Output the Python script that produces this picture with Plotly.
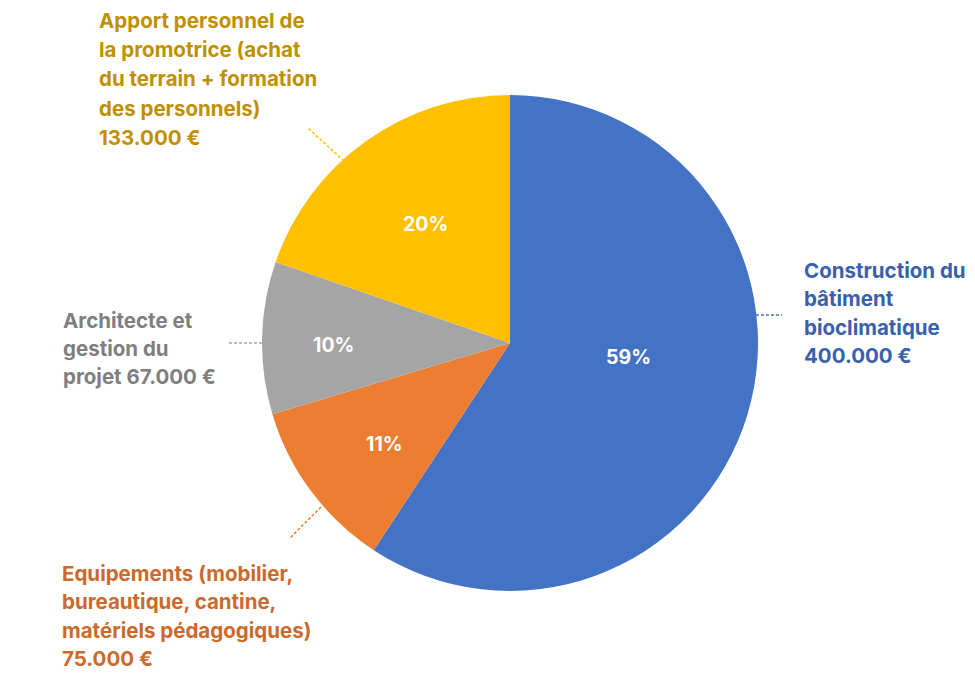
import math
import plotly.graph_objects as go

# ---- data ----
categories = ["Construction du bâtiment bioclimatique",
              "Equipements (mobilier, bureautique, cantine, matériels pédagogiques)",
              "Architecte et gestion du projet",
              "Apport personnel de la promotrice (achat du terrain + formation des personnels)"]
amounts = [400000, 75000, 67000, 133000]
label_lines = [
    ["Construction du", "bâtiment", "bioclimatique", "400.000 €"],
    ["Equipements (mobilier,", "bureautique, cantine,", "matériels pédagogiques)", "75.000 €"],
    ["Architecte et", "gestion du", "projet 67.000 €"],
    ["Apport personnel de", "la promotrice (achat", "du terrain + formation", "des personnels)", "133.000 €"],
]

# ---- styles ----
slice_colors = ["#4472C4", "#ED7D31", "#A5A5A5", "#FFC000"]
text_colors = ["#3A60AC", "#CB6A2A", "#7F7F7F", "#BF9000"]
W, H = 975, 684
FONT = "Inter"
LABEL_SIZE = 20.5
PCT_SIZE = 19.5

# pie geometry (pixels)
CX, CY, R = 510, 343, 248
# percent label placement: radial fraction and angular nudge (deg) per slice
pct_radius = [0.48, 0.65, 0.71, 0.59]
pct_nudge = [-10, -2, -2, 0]

# label layout (pixels): left x, first baseline y, line spacing
label_pos = [(802, 277, 28.5), (60, 580, 28.5), (61, 327, 28), (97, 28, 29)]
# leader segments in pixels
leaders = [((756, 315), (782, 315)), ((321, 507), (290, 538)),
           ((262, 343), (228, 343)), ((344, 161), (308, 128))]

fig = go.Figure(go.Pie(
    labels=categories, values=amounts, sort=False, direction="clockwise", rotation=0,
    marker=dict(colors=slice_colors, line=dict(width=0)),
    textinfo="none",
    domain=dict(x=[(CX - R) / W, (CX + R) / W], y=[(H - CY - R) / H, (H - CY + R) / H]),
    showlegend=False, hoverinfo="label+value+percent",
))

annotations = []
# percent labels, placed from the cumulative angles of the data
total = sum(amounts)
cum = 0
for v, fr, nd in zip(amounts, pct_radius, pct_nudge):
    mid = (cum + v / 2) / total * 360 + nd
    cum += v
    px = CX + fr * R * math.sin(math.radians(mid))
    py = CY - fr * R * math.cos(math.radians(mid))
    annotations.append(dict(
        text=f"{round(v / total * 100)}%", x=px / W, y=1 - py / H,
        xref="paper", yref="paper", xanchor="center", yanchor="middle", showarrow=False,
        font=dict(family=FONT, size=PCT_SIZE, color="white", weight="bold")))

for lines, (lx, by, sp), col in zip(label_lines, label_pos, text_colors):
    for i, t in enumerate(lines):
        y_mid = by + i * sp - 7
        annotations.append(dict(
            text=t, x=lx / W, y=1 - y_mid / H, xref="paper", yref="paper",
            xanchor="left", yanchor="middle", showarrow=False,
            font=dict(family=FONT, size=LABEL_SIZE, color=col, weight="bold")))

shapes = []
for ((x0, y0), (x1, y1)), col in zip(leaders, slice_colors):
    shapes.append(dict(type="line", xref="paper", yref="paper",
                       x0=x0 / W, y0=1 - y0 / H, x1=x1 / W, y1=1 - y1 / H,
                       line=dict(color=col, width=1.5, dash="3px,2px")))

fig.update_layout(width=W, height=H, margin=dict(l=0, r=0, t=0, b=0),
                  paper_bgcolor="white", plot_bgcolor="white",
                  annotations=annotations, shapes=shapes,
                  font=dict(family=FONT))
fig.write_html("out.html", config={"displayModeBar": False},
               post_script="document.body.style.margin='0';")
